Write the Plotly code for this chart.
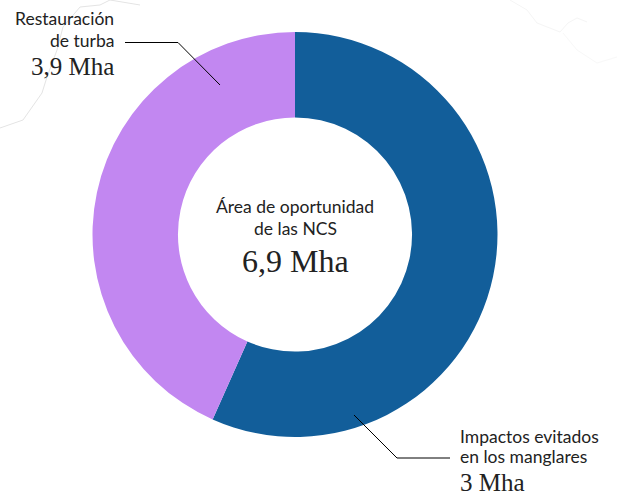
import plotly.graph_objects as go

W, H = 618, 493
categories = ["Impactos evitados en los manglares", "Restauración de turba"]
slice_values = [3.91, 2.99]
colors = ["#125E9A", "#C287F1"]
SANS = "Lato"
SERIF = "Liberation Serif"
INK = "#222222"

def px(x): return x / W
def py(y): return 1 - y / H

fig = go.Figure(go.Pie(
    labels=categories, values=slice_values, sort=False, direction="clockwise", rotation=0,
    hole=0.578, textinfo="none", hoverinfo="label+value",
    marker=dict(colors=colors, line=dict(width=0)),
    domain=dict(x=[px(92.5), px(497.5)], y=[py(437), py(32)]), showlegend=False,
))

def path(points, color, width):
    d = "M " + " L ".join(f"{px(x):.5f} {py(y):.5f}" for x, y in points)
    return dict(type="path", xref="paper", yref="paper", path=d,
                line=dict(color=color, width=width), layer="above")

shapes = [
    path([(0,128),(23,120),(42,93),(47,77),(57,50),(63,27),(80,7),(100,5),(110,0),(140,5)], "#e4e4e4", 1),
    path([(510,0),(527,10),(537,23),(560,32),(568,23),(577,18),(587,22)], "#f5f5f5", 1),
    path([(563,33),(577,50),(597,63),(617,57)], "#f8f8f8", 1),
    path([(125,42.5),(178,42.5),(220,85)], "#000000", 1),
    path([(354,415),(397,458),(450,458)], "#000000", 1),
]
for s in shapes[:3]:
    s["layer"] = "below"

def note(text, x, y, anchor, size, font):
    fig.add_annotation(text=text, xref="paper", yref="paper", x=px(x), y=py(y),
                       xanchor=anchor, yanchor="middle", showarrow=False,
                       font=dict(family=font, size=size, color=INK), borderpad=0, borderwidth=0)

note("Restauración", 113.5, 19, "right", 17.5, SANS)
note("de turba", 113.5, 40, "right", 17.5, SANS)
note("3,9 Mha", 114, 66, "right", 25, SERIF)
note("Impactos evitados", 460, 436, "left", 17.5, SANS)
note("en los manglares", 460, 456, "left", 17.5, SANS)
note("3 Mha", 460, 482, "left", 25, SERIF)
note("Área de oportunidad", 295, 207, "center", 17.5, SANS)
note("de las NCS", 295, 228, "center", 17.5, SANS)
note("6,9 Mha", 295, 261, "center", 32, SERIF)

fig.update_layout(width=W, height=H, margin=dict(l=0, r=0, t=0, b=0),
                  paper_bgcolor="white", shapes=shapes)
fig.write_html("out.html", config={"displayModeBar": False},
               post_script="document.body.style.margin='0';document.body.style.overflow='hidden';")
